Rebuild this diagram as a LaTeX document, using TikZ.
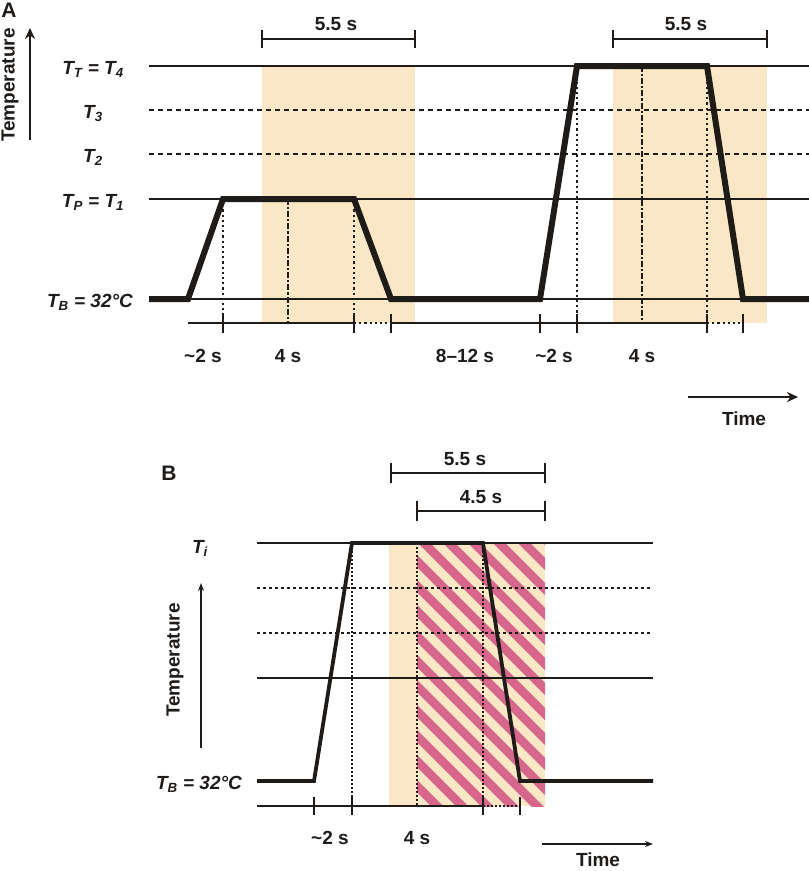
\documentclass[tikz,border=0pt]{standalone}
\usepackage{fontspec}
\setmainfont{Liberation Sans}
\usetikzlibrary{arrows.meta}

\definecolor{sandbg}{RGB}{249,231,197}
\definecolor{stripe}{RGB}{214,102,140}
\definecolor{ink}{RGB}{30,27,25}

\begin{document}
\begin{tikzpicture}[x=1pt,y=1pt,yscale=-1,xscale=1,
  every node/.style={inner sep=0.75pt,text=ink,font=\fontsize{19}{21}\selectfont\bfseries},
  tlabel/.style={font=\fontsize{19}{21}\selectfont\bfseries\itshape},
  lvl/.style={draw=ink,line width=2.4pt},
  levdash/.style={draw=ink,line width=2.8pt,dash pattern={on 5pt off 4pt}},
  pulse/.style={draw=ink,line width=6pt,line join=miter},
  guide/.style={draw=ink,line width=2.2pt,dash pattern={on 2.2pt off 3pt}},
  centre/.style={draw=ink,line width=2.4pt,dash pattern={on 6pt off 2pt on 2.2pt off 2pt}},
  tck/.style={draw=ink,line width=2.6pt},
  lvlB/.style={draw=ink,line width=1.6pt},
  levdashB/.style={draw=ink,line width=1.8pt,dash pattern={on 3pt off 3pt}},
  pulseB/.style={draw=ink,line width=3.8pt,line join=miter},
  guideB/.style={draw=ink,line width=1.5pt,dash pattern={on 1.5pt off 2.5pt}},
  tckB/.style={draw=ink,line width=1.8pt},
]
\useasboundingbox (0,0) rectangle (809,871);

%%%%%%%%%% Panel A %%%%%%%%%%
%Shape: Rectangle [shaded windows]
\fill[sandbg] (262,66) rectangle (415,323);
\fill[sandbg] (613,66) rectangle (767,323);

%Straight Lines [temperature levels]
\draw[lvl] (149,66) -- (809,66);
\draw[levdash] (149,110) -- (809,110);
\draw[levdash] (149,154) -- (809,154);
\draw[lvl] (149,199) -- (809,199);
\draw[lvl] (149,299) -- (809,299);

%Straight Lines [guides]
\draw[guide] (223,199) -- (223,323);
\draw[centre] (288,199) -- (288,323);
\draw[guide] (354,199) -- (354,323);
\draw[guide] (577,66) -- (577,323);
\draw[centre] (642,66) -- (642,323);
\draw[guide] (707,66) -- (707,323);

%Shape: Polygon [pulses]
\draw[pulse] (149,299) -- (188,299) -- (223,199) -- (354,199) -- (391,299) -- (540,299) -- (577,66) -- (707,66) -- (743,299) -- (809,299);

%Straight Lines [time axis]
\draw[lvl] (188,323) -- (354,323);
\draw[guide] (354,323) -- (391,323);
\draw[lvl] (391,323) -- (707,323);
\draw[guide] (707,323) -- (743,323);
\foreach \t in {223,354,391,540,577,707,743}
  \draw[tck] (\t,314) -- (\t,333);

%Straight Lines [brackets]
\draw[tck] (262,30) -- (262,48) (262,39) -- (415,39) (415,30) -- (415,48);
\draw[tck] (613,30) -- (613,48) (613,39) -- (767,39) (767,30) -- (767,48);

%Straight Lines [axis arrows]
\draw[ink,line width=2.8pt,-{Stealth[length=11pt,width=10pt]}] (30,140) -- (30,28);
\draw[ink,line width=2.8pt,-{Stealth[length=11pt,width=10pt]}] (688,397) -- (798,397);

% Text Node
\node (labA) at (9,10) {\fontsize{21}{23}\selectfont A};
% Text Node
\node (tempA) [rotate=90] at (10,85) {Temperature};
% Text Node
\node (ttA) [tlabel,anchor=base] at (93,74) {T\textsubscript{T} = T\textsubscript{4}};
% Text Node
\node (t3A) [tlabel,anchor=base] at (93,118) {T\textsubscript{3}};
% Text Node
\node (t2A) [tlabel,anchor=base] at (93,162) {T\textsubscript{2}};
% Text Node
\node (tpA) [tlabel,anchor=base] at (93,207) {T\textsubscript{P} = T\textsubscript{1}};
% Text Node
\node (tbA) [tlabel,anchor=base] at (90,307) {T\textsubscript{B} = 32°C};
% Text Node
\node (winA1) [anchor=base] at (336,30) {5.5 s};
% Text Node
\node (winA2) [anchor=base] at (686,30) {5.5 s};
% Text Node
\node (rampA1) [anchor=base] at (203,362) {\textasciitilde2 s};
% Text Node
\node (holdA1) [anchor=base] at (288,362) {4 s};
% Text Node
\node (gapA) [anchor=base] at (465,362) {8--12 s};
% Text Node
\node (rampA2) [anchor=base] at (554,362) {\textasciitilde2 s};
% Text Node
\node (holdA2) [anchor=base] at (642,362) {4 s};
% Text Node
\node (timeA) [anchor=base] at (744,425) {Time};

%%%%%%%%%% Panel B %%%%%%%%%%
%Shape: Rectangle [shaded window]
\fill[sandbg] (389,543) rectangle (545,806);
%Shape: Stripes
\begin{scope}
  \clip (417,543) rectangle (545,806);
  \foreach \s in {124,149,...,574}
    \draw[stripe,line width=8.6pt] (\s-20,523) -- ++(320,320);
\end{scope}

%Straight Lines [temperature levels]
\draw[lvlB] (257,543) -- (653,543);
\draw[levdashB] (257,588) -- (653,588);
\draw[levdashB] (257,633) -- (653,633);
\draw[lvlB] (257,678) -- (653,678);

%Straight Lines [guides]
\draw[guideB] (352,543) -- (352,806);
\draw[guideB] (417,543) -- (417,806);
\draw[guideB] (483,543) -- (483,806);

%Shape: Polygon [pulse]
\draw[pulseB] (257,781) -- (314,781) -- (352,543) -- (483,543) -- (520,781) -- (653,781);

%Straight Lines [time axis]
\draw[lvlB] (257,806) -- (483,806);
\draw[guideB] (483,806) -- (520,806);
\foreach \t in {314,352,483,520}
  \draw[tckB] (\t,797) -- (\t,815);

%Straight Lines [brackets]
\draw[tckB] (391,463) -- (391,483) (391,473) -- (545,473) (545,463) -- (545,483);
\draw[tckB] (417,501) -- (417,521) (417,511) -- (545,511) (545,501) -- (545,521);

%Straight Lines [axis arrows]
\draw[ink,line width=1.6pt,-{Stealth[length=8pt,width=6pt]}] (201,748) -- (201,583);
\draw[ink,line width=1.6pt,-{Stealth[length=8pt,width=6pt]}] (542,844) -- (653,844);

% Text Node
\node (labB) at (169,473) {\fontsize{21}{23}\selectfont B};
% Text Node
\node (tempB) [rotate=90] at (175,660) {Temperature};
% Text Node
\node (tiB) [tlabel,anchor=base] at (200,553) {T\textsubscript{i}};
% Text Node
\node (tbB) [tlabel,anchor=base] at (199,789) {T\textsubscript{B} = 32°C};
% Text Node
\node (winB1) [anchor=base] at (465,465) {5.5 s};
% Text Node
\node (winB2) [anchor=base] at (481,503) {4.5 s};
% Text Node
\node (rampB) [anchor=base] at (330,844) {\textasciitilde2 s};
% Text Node
\node (holdB) [anchor=base] at (417,844) {4 s};
% Text Node
\node (timeB) [anchor=base] at (598,866) {Time};

\end{tikzpicture}
\end{document}
